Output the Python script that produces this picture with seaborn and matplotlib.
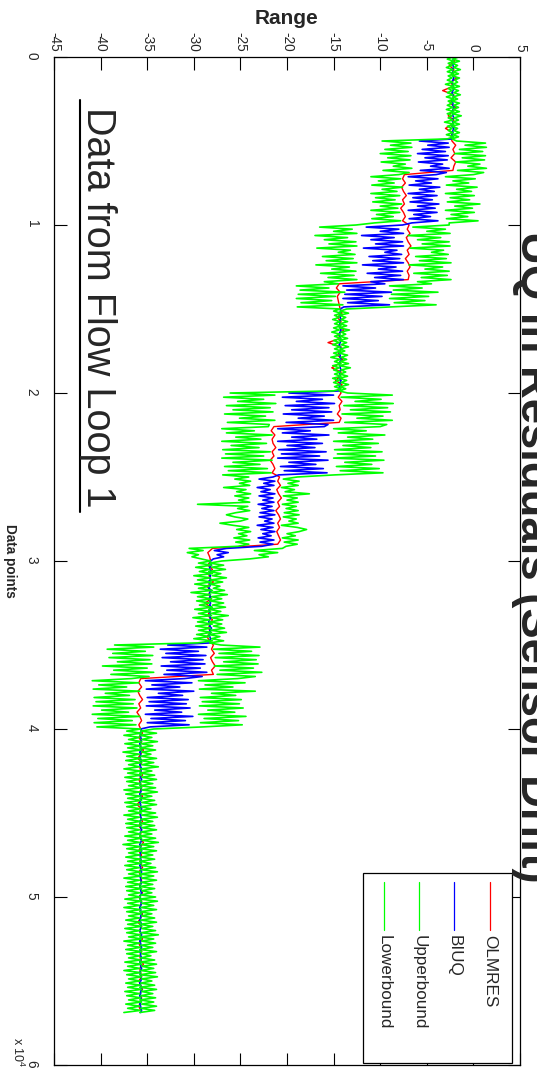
import numpy as np
import pandas as pd
import matplotlib
matplotlib.use("Agg")
import matplotlib.pyplot as plt
import seaborn as sns
from matplotlib.lines import Line2D
from matplotlib.patches import Rectangle
from matplotlib import font_manager as fm

# ---------------- data ----------------
olmres_step = 250   # data points between OLMRES samples
bound_step = 125    # data points between BIUQ / bound samples

olmres = [
    # 0 - 5000
    -2.2,-2.0,-2.6,-2.1,-2.3,-1.8,-2.4,-2.2,-3.3,-2.1,-2.2,-2.5,-1.9,-2.3,-2.7,-2.1,-2.2,-3.0,-2.2,-2.4,
    # 5000 - 7000
    -2.3,-1.9,-2.2,-2.0,-2.4,-1.9,-2.1,-2.2,
    # 7000 - 10000
    -7.4,-7.6,-7.3,-7.7,-7.5,-7.2,-7.6,-7.4,-7.8,-7.5,-7.3,-7.6,
    # 10000 - 13500
    -6.9,-7.1,-6.8,-7.2,-7.0,-6.7,-7.1,-6.9,-7.3,-7.0,-6.8,-7.1,-6.9,-7.0,
    # 13500 - 15000
    -14.4,-14.7,-14.3,-14.6,-14.5,-14.4,
    # 15000 - 20000
    -14.3,-14.1,-14.6,-14.2,-14.4,-13.9,-14.5,-14.3,-15.6,-14.2,-14.3,-14.6,-14.0,-14.4,-15.2,-14.2,-14.3,-14.8,-14.1,-14.4,
    # 20000 - 22000
    -14.2,-14.5,-14.1,-14.4,-14.3,-14.6,-14.2,-14.4,
    # 22000 - 25000
    -21.4,-21.7,-21.3,-21.6,-21.5,-21.2,-21.6,-21.4,-21.8,-21.5,-21.3,-21.6,
    # 25000 - 29250
    -20.8,-21.0,-20.7,-21.1,-20.9,-20.6,-21.0,-20.8,-21.2,-20.9,-20.7,-21.0,-20.8,-21.1,-20.9,-20.7,-21.0,
    # 29250 - 30000
    -28.0,-28.5,-28.3,
    # 30000 - 35000
    -28.2,-28.5,-28.0,-28.4,-28.3,-27.9,-28.6,-28.2,-28.4,-28.1,-28.8,-28.2,-28.3,-28.5,-28.0,-28.3,-28.4,-28.2,-28.6,-28.3,
    # 35000 - 37000
    -27.9,-28.1,-27.8,-28.2,-28.0,-27.7,-28.1,-27.9,
    # 37000 - 40000
    -35.7,-35.9,-35.6,-36.0,-35.8,-35.5,-35.9,-35.7,-36.1,-35.8,-35.6,-35.9,
    # 40000 - 56750
    -35.7,-35.5,-35.9,-35.6,-35.8,-35.4,-35.7,-36.0,-35.6,-35.8,
    -35.7,-35.5,-35.9,-35.7,-35.6,-35.8,-35.5,-35.7,-36.1,-35.6,
    -35.8,-35.7,-35.5,-35.9,-35.6,-35.7,-35.8,-35.4,-35.7,-35.9,
    -35.6,-35.8,-35.7,-35.5,-35.9,-35.7,-35.6,-35.8,-35.7,-35.5,
    -35.9,-35.6,-35.7,-35.8,-35.5,-35.7,-36.0,-35.6,-35.8,-35.7,
    -35.5,-35.9,-35.7,-35.6,-35.8,-35.7,-35.4,-35.8,-35.7,-35.6,
    -35.9,-35.7,-35.5,-35.8,-35.6,-35.7,-35.9,-35.7,
]

biuq = [
    # 0 - 5000
    -2.2,-2.1,-2.3,-2.2,-2.2,-2.1,-2.3,-2.2, -2.3,-2.2,-2.1,-2.2,-2.3,-2.2,-2.2,-2.1,
    -2.2,-2.3,-2.2,-2.1,-2.2,-2.3,-2.2,-2.2, -2.1,-2.2,-2.3,-2.2,-2.2,-2.1,-2.3,-2.2,
    -2.2,-2.3,-2.1,-2.2,-2.2,-2.3,-2.2,-2.2,
    # 5000 - 7000
    -5.8,-2.7,-4.9,-2.6,-5.5,-3.0,-6.0,-2.7,-5.2,-2.8,-5.9,-3.3,-4.6,-2.6,-5.7,-2.9,
    # 7000 - 10000
    -4.0,-7.0,-3.8,-6.2,-4.5,-6.9,-3.6,-5.8,-4.2,-7.0,-3.9,-6.5,
    -4.4,-6.8,-3.7,-6.0,-4.1,-7.0,-3.9,-6.4,-4.6,-6.9,-3.8,-6.6,
    # 10000 - 13500
    -7.6,-11.5,-8.0,-10.0,-7.5,-12.0,-8.5,-11.0,-7.6,-10.5,-7.5,-11.8,-8.2,-9.5,
    -7.7,-11.2,-7.9,-10.8,-7.5,-11.9,-8.3,-10.2,-7.6,-11.4,-7.8,-10.6,-7.5,-11.0,
    # 13500 - 15000
    -9.5,-14.0,-10.5,-13.6,-8.8,-13.8,-9.8,-14.0,-10.2,-13.5,-9.0,-13.9,
    # 15000 - 20000
    -14.3,-14.2,-14.4,-14.3,-14.3,-14.2,-14.4,-14.3, -14.4,-14.3,-14.2,-14.3,-14.4,-14.3,-14.3,-14.2,
    -14.3,-14.4,-14.3,-14.2,-14.3,-14.4,-14.3,-14.3, -14.2,-14.3,-14.4,-14.3,-14.3,-14.2,-14.4,-14.3,
    -14.3,-14.4,-14.2,-14.3,-14.3,-14.4,-14.3,-14.3,
    # 20000 - 22000
    -19.8,-15.0,-20.5,-16.2,-19.0,-14.9,-20.2,-15.5,-19.5,-15.2,-20.4,-16.0,-18.8,-15.0,-20.1,-15.6,
    # 22000 - 25000
    -16.0,-21.0,-17.5,-20.5,-15.5,-19.5,-16.8,-21.0,-16.2,-20.0,-17.0,-20.9,
    -15.8,-20.6,-16.5,-21.0,-15.6,-19.8,-16.9,-20.7,-16.1,-20.3,-15.7,-20.9,
    # 25000 - 29250
    -21.5,-23.0,-21.3,-22.5,-21.4,-23.2,-21.8,-22.8,-21.3,-23.0,-21.5,-22.6,-21.4,-23.1,-21.6,-22.7,-21.4,
    -22.9,-21.3,-23.0,-21.6,-22.4,-21.4,-23.2,-21.5,-22.8,-21.3,-22.6,-21.7,-23.1,-21.4,-22.9,-21.5,-22.7,
    # 29250 - 30000
    -26.5,-27.8,-26.3,-27.5,-26.8,-27.9,
    # 30000 - 35000
    -28.2,-28.3,-28.1,-28.3,-28.3,-28.1,-28.4,-28.2, -28.3,-28.2,-28.5,-28.2,-28.3,-28.4,-28.1,-28.3,
    -28.3,-28.2,-28.4,-28.3,-28.2,-28.3,-28.1,-28.3, -28.4,-28.2,-28.3,-28.2,-28.3,-28.4,-28.2,-28.3,
    -28.1,-28.3,-28.2,-28.4,-28.3,-28.2,-28.3,-28.2,
    # 35000 - 37000
    -32.8,-28.6,-33.6,-29.5,-33.0,-28.7,-33.4,-29.0,-32.5,-28.8,-33.5,-29.3,-32.9,-28.6,-33.2,-29.1,
    # 37000 - 40000
    -31.0,-35.2,-30.2,-34.5,-31.5,-35.1,-30.0,-33.8,-31.2,-35.0,-30.6,-34.8,
    -30.8,-35.1,-30.4,-34.2,-31.3,-35.2,-30.1,-34.6,-30.9,-35.0,-30.5,-34.7,
    # 40000 - 56875
    -35.7,-35.6,-35.8,-35.7,-35.7,-35.6,-35.7,-35.8, -35.7,-35.7,-35.6,-35.8,-35.7,-35.7,-35.8,-35.6,
    -35.7,-35.8,-35.7,-35.6,-35.7,-35.7,-35.8,-35.7, -35.6,-35.7,-35.8,-35.7,-35.7,-35.6,-35.7,-35.8,
    -35.7,-35.6,-35.7,-35.8,-35.7,-35.7,-35.6,-35.7, -35.8,-35.7,-35.7,-35.6,-35.8,-35.7,-35.7,-35.7,
    -35.6,-35.7,-35.8,-35.7,-35.7,-35.6,-35.7,-35.8, -35.7,-35.7,-35.6,-35.7,-35.8,-35.7,-35.7,-35.6,
    -35.7,-35.8,-35.7,-35.7,-35.6,-35.7,-35.8,-35.7, -35.7,-35.6,-35.7,-35.8,-35.7,-35.7,-35.6,-35.7,
    -35.8,-35.7,-35.7,-35.6,-35.7,-35.8,-35.7,-35.7, -35.6,-35.7,-35.7,-35.8,-35.7,-35.6,-35.7,-35.7,
    -35.8,-35.7,-35.6,-35.7,-35.7,-35.8,-35.7,-35.7, -35.6,-35.7,-35.8,-35.7,-35.7,-35.6,-35.7,-35.8,
    -35.7,-35.7,-35.6,-35.7,-35.8,-35.7,-35.7,-35.6, -35.7,-35.8,-35.7,-35.7,-35.6,-35.7,-35.7,-35.8,
    -35.7,-35.6,-35.7,-35.8,-35.7,-35.7,-35.6,-35.7,
]

upperbound = [
    # 0 - 5000
    -1.6,-2.2,-1.5,-2.3,-1.7,-2.1,-1.4,-2.2, -1.6,-2.3,-1.5,-2.0,-1.7,-2.2,-1.5,-2.3,
    -1.6,-2.1,-1.4,-2.2,-1.7,-2.3,-1.5,-2.1, -1.6,-2.2,-1.5,-2.3,-1.3,-2.1,-1.6,-2.2,
    -1.5,-2.3,-1.7,-2.1,-1.5,-2.2,-1.6,-2.3,
    # 5000 - 7000
    -1.8,1.3,-0.9,1.4,-1.5,1.0,-2.0,1.3,-1.2,1.2,-1.9,0.7,-0.6,1.4,-1.7,1.1,
    # 7000 - 10000
    0.0,-3.0,0.2,-2.2,-0.5,-2.9,0.4,-1.8,-0.2,-3.0,0.1,-2.5,
    -0.4,-2.8,0.7,-2.0,-0.1,-3.0,0.1,-2.4,-0.6,-2.9,0.5,-2.6,
    # 10000 - 13500
    -2.6,-6.5,-3.0,-5.0,-2.5,-7.0,-3.5,-6.0,-2.6,-5.5,-2.5,-6.8,-3.2,-4.5,
    -2.7,-6.2,-2.9,-5.8,-2.4,-6.9,-3.3,-5.2,-2.6,-6.4,-2.8,-5.6,-2.4,-6.0,
    # 13500 - 15000
    -4.5,-9.0,-5.5,-8.6,-3.8,-8.8,-4.8,-9.0,-5.2,-8.5,-4.0,-8.9,
    # 15000 - 20000
    -13.6,-14.3,-13.4,-14.4,-13.7,-14.2,-13.5,-14.3, -13.6,-14.4,-13.3,-14.2,-13.7,-14.3,-13.5,-14.4,
    -13.6,-14.2,-13.4,-14.3,-13.8,-14.4,-13.5,-14.2, -13.6,-14.3,-13.4,-14.4,-13.2,-14.2,-13.7,-14.3,
    -13.5,-14.4,-13.6,-14.2,-13.4,-14.3,-13.7,-14.4,
    # 20000 - 22000
    -13.5,-8.7,-14.2,-9.9,-12.7,-8.6,-13.9,-9.2,-13.2,-8.9,-14.1,-9.7,-12.5,-8.7,-13.8,-9.3,
    # 22000 - 25000
    -10.0,-15.0,-11.5,-14.5,-9.5,-13.5,-10.8,-15.0,-10.2,-14.0,-11.0,-14.9,
    -9.8,-14.6,-10.5,-15.0,-9.6,-13.8,-10.9,-14.7,-10.1,-14.3,-9.7,-14.9,
    # 25000 - 29250
    -18.9,-20.4,-18.7,-19.9,-18.8,-20.6,-19.2,-20.2,-17.6,-20.4,-18.9,-20.0,-18.8,-20.5,-19.0,-20.1,-18.8,
    -20.3,-18.7,-20.4,-19.0,-19.8,-18.8,-20.6,-18.9,-17.9,-18.7,-20.0,-19.1,-20.5,-18.8,-20.3,-18.9,-20.1,
    # 29250 - 30000
    -20.5,-23.5,-21.0,-23.0,-22.0,-24.0,
    # 30000 - 35000
    -27.0,-28.3,-26.8,-28.1,-26.6,-28.4,-27.1,-28.0, -26.5,-28.2,-26.9,-28.3,-27.2,-27.9,-26.7,-28.2,
    -26.4,-28.1,-27.0,-28.3,-26.8,-28.0,-26.6,-28.4, -27.1,-28.2,-26.3,-28.1,-26.9,-28.3,-27.0,-27.9,
    -26.7,-28.2,-26.5,-28.4,-27.2,-28.1,-26.8,-28.3,
    # 35000 - 37000
    -27.1,-22.9,-27.9,-23.8,-27.3,-23.0,-27.7,-23.3,-26.8,-23.1,-27.8,-23.6,-27.2,-22.7,-27.5,-23.4,
    # 37000 - 40000
    -25.3,-29.5,-24.5,-28.8,-25.8,-29.4,-23.4,-28.1,-25.5,-29.3,-24.9,-29.1,
    -25.1,-29.4,-24.7,-28.5,-25.6,-29.5,-24.4,-28.9,-25.2,-29.3,-24.8,-29.0,
    # 40000 - 56875
    -34.3,-35.7,-34.0,-35.8,-34.5,-35.6,-33.9,-35.7, -34.4,-35.8,-34.1,-35.6,-34.6,-35.7,-34.0,-35.8,
    -34.3,-35.6,-33.8,-35.7,-34.5,-35.8,-34.2,-35.6, -34.0,-35.7,-34.4,-35.8,-34.1,-35.6,-33.9,-35.7,
    -34.5,-35.8,-34.2,-35.6,-34.0,-35.7,-34.6,-35.8, -34.1,-35.6,-33.9,-35.7,-34.4,-35.8,-34.2,-35.6,
    -34.0,-35.7,-34.5,-35.8,-34.1,-35.6,-33.8,-35.7, -34.3,-35.8,-34.0,-35.6,-34.4,-35.7,-34.2,-35.8,
    -34.6,-35.6,-34.1,-35.7,-33.9,-35.8,-34.3,-35.6, -34.0,-35.7,-34.4,-35.8,-34.2,-35.6,-34.5,-35.7,
    -34.1,-35.8,-33.9,-35.6,-34.3,-35.7,-34.0,-35.8, -34.5,-35.6,-34.2,-35.7,-34.0,-35.8,-34.4,-35.6,
    -34.1,-35.7,-33.8,-35.8,-34.3,-35.6,-34.1,-35.7, -34.4,-35.8,-34.0,-35.6,-34.6,-35.7,-34.2,-35.8,
    -34.0,-35.6,-34.3,-35.7,-34.1,-35.8,-33.9,-35.6, -34.5,-35.7,-34.2,-35.8,-34.0,-35.6,-34.4,-35.7,
    -34.1,-35.8,-34.3,-35.6,-34.0,-35.7,-34.2,-35.8,
]

lowerbound = [
    # 0 - 5000
    -2.2,-2.8,-2.1,-2.7,-2.3,-2.9,-2.2,-2.8, -2.1,-2.7,-2.3,-2.8,-2.2,-3.0,-2.1,-2.7,
    -2.3,-2.8,-2.2,-2.9,-2.1,-2.7,-2.3,-2.8, -2.2,-2.9,-2.1,-2.8,-2.3,-2.7,-2.2,-3.1,
    -2.1,-2.8,-2.3,-2.7,-2.2,-2.9,-2.1,-2.8,
    # 5000 - 7000
    -9.8,-6.7,-8.9,-6.6,-9.5,-7.0,-10.0,-6.7,-9.2,-6.8,-9.9,-7.3,-8.6,-6.6,-9.7,-6.9,
    # 7000 - 10000
    -8.0,-11.0,-7.8,-10.2,-8.5,-10.9,-7.6,-9.8,-8.2,-11.0,-7.9,-10.5,
    -8.4,-10.8,-7.7,-10.0,-8.1,-11.0,-7.9,-10.4,-8.6,-10.9,-7.8,-10.6,
    # 10000 - 13500
    -12.6,-16.5,-13.0,-15.0,-12.5,-17.0,-13.5,-16.0,-12.6,-15.5,-12.5,-16.8,-13.2,-14.5,
    -12.7,-16.2,-12.9,-15.8,-12.5,-16.9,-13.3,-15.2,-12.6,-16.4,-12.8,-15.6,-12.5,-16.0,
    # 13500 - 15000
    -14.5,-19.0,-15.5,-18.6,-13.8,-18.8,-14.8,-19.0,-15.2,-18.5,-14.0,-18.9,
    # 15000 - 20000
    -14.3,-15.0,-14.2,-14.9,-14.4,-15.1,-14.3,-14.9, -14.2,-15.0,-14.4,-15.2,-14.3,-14.9,-14.2,-15.0,
    -14.4,-15.1,-14.3,-14.9,-14.2,-15.0,-14.4,-15.3, -14.3,-14.9,-14.2,-15.1,-14.4,-15.0,-14.3,-14.9,
    -14.2,-15.1,-14.4,-15.0,-14.3,-14.9,-14.2,-15.0,
    # 20000 - 22000
    -26.1,-21.3,-26.8,-22.5,-25.3,-21.2,-26.5,-21.8,-25.8,-21.5,-26.7,-22.3,-25.1,-21.3,-26.4,-21.9,
    # 22000 - 25000
    -22.0,-27.0,-23.5,-26.5,-21.6,-25.5,-22.8,-27.0,-22.2,-26.0,-23.0,-26.9,
    -21.8,-26.6,-22.5,-27.0,-21.6,-25.8,-22.9,-26.7,-22.1,-26.3,-21.7,-26.9,
    # 25000 - 29250
    -24.1,-25.6,-23.9,-25.1,-24.0,-26.8,-24.4,-25.4,-23.9,-25.6,-24.1,-25.2,-24.0,-29.6,-24.2,-25.3,-24.0,
    -25.5,-26.5,-25.6,-24.2,-25.0,-27.2,-25.8,-24.1,-25.4,-23.9,-25.2,-24.3,-25.7,-24.0,-25.5,-24.1,-25.3,
    # 29250 - 30000
    -30.5,-29.0,-30.7,-29.5,-30.2,-29.2,
    # 30000 - 35000
    -28.2,-29.5,-28.1,-29.8,-28.3,-29.4,-28.0,-30.0, -28.2,-29.6,-28.1,-29.9,-28.3,-29.5,-28.0,-30.3,
    -28.2,-29.6,-28.1,-29.7,-28.3,-29.4,-28.0,-29.9, -28.2,-29.5,-28.1,-30.1,-28.3,-29.6,-28.0,-29.8,
    -28.2,-29.5,-28.1,-29.7,-28.3,-30.0,-28.0,-29.6,
    # 35000 - 37000
    -38.5,-34.3,-39.3,-35.2,-38.7,-34.4,-39.1,-34.7,-38.2,-34.5,-39.8,-35.0,-38.6,-34.3,-38.9,-34.8,
    # 37000 - 40000
    -36.7,-40.9,-35.9,-40.2,-37.2,-40.8,-35.8,-39.5,-36.9,-40.7,-36.3,-40.5,
    -36.5,-40.8,-36.1,-39.9,-37.0,-40.9,-35.8,-40.3,-36.6,-40.7,-36.2,-40.4,
    # 40000 - 56875
    -35.7,-37.2,-35.6,-37.5,-35.8,-37.0,-35.6,-37.4, -35.7,-37.1,-35.6,-37.6,-35.8,-37.2,-35.7,-37.3,
    -35.6,-37.0,-35.8,-37.5,-35.7,-37.1,-35.6,-37.4, -35.8,-37.2,-35.7,-37.0,-35.6,-37.5,-35.8,-37.3,
    -35.7,-37.1,-35.6,-37.4,-35.8,-37.2,-35.7,-37.0, -35.6,-37.5,-35.8,-37.1,-35.7,-37.3,-35.6,-37.2,
    -35.8,-37.0,-35.7,-37.4,-35.6,-37.1,-35.8,-37.6, -35.7,-37.2,-35.6,-37.0,-35.8,-37.3,-35.7,-37.1,
    -35.6,-37.4,-35.8,-37.2,-35.7,-37.0,-35.6,-37.5, -35.8,-37.1,-35.7,-37.3,-35.6,-37.2,-35.8,-37.0,
    -35.7,-37.4,-35.6,-37.1,-35.8,-37.5,-35.7,-37.2, -35.6,-37.0,-35.8,-37.3,-35.7,-37.1,-35.6,-37.4,
    -35.8,-37.2,-35.7,-37.0,-35.6,-37.5,-35.8,-37.1, -35.7,-37.3,-35.6,-37.2,-35.8,-37.0,-35.7,-37.4,
    -35.6,-37.1,-35.8,-37.5,-35.7,-37.2,-35.6,-37.0, -35.8,-37.3,-35.7,-37.1,-35.6,-37.4,-35.8,-37.2,
    -35.7,-37.0,-35.6,-37.3,-35.8,-37.1,-35.7,-37.5,
]

series_names = ["OLMRES", "BIUQ", "Upperbound", "Lowerbound"]
series_colors = ["#ff0000", "#0000ff", "#00ff00", "#00ff00"]
range_ticks = [-45, -40, -35, -30, -25, -20, -15, -10, -5, 0, 5]
point_ticks = [0, 10000, 20000, 30000, 40000, 50000, 60000]
point_tick_labels = ["0", "1", "2", "3", "4", "5", "6"]
title_text = "UQ in Residuals (Sensor Drift)"
note_text = "Data from Flow Loop 1"

# ---------------- style ----------------
sns.set_style("white")
plt.rcParams['font.family'] = ['Liberation Sans', 'DejaVu Sans']
plt.rcParams['axes.unicode_minus'] = False
plt.rcParams['mathtext.fontset'] = 'custom'
plt.rcParams['mathtext.rm'] = 'Liberation Sans'

names = {f.name for f in fm.fontManager.ttflist}
HAS_NARROW = 'Liberation Sans Narrow' in names
NARROW = ['Liberation Sans Narrow', 'Liberation Sans', 'DejaVu Sans'] if HAS_NARROW else ['Liberation Sans', 'DejaVu Sans']
k = 1.0 if HAS_NARROW else 0.82  # size factor when no narrow face

W, H = 537, 1070
fig = plt.figure(figsize=(W / 100, H / 100), dpi=100)
fig.patch.set_facecolor("white")
ax = fig.add_axes([54 / W, 1 - 1065 / H, 466 / W, 1008 / H])

df_res = pd.DataFrame({"point": np.arange(len(olmres)) * olmres_step, "OLMRES": olmres})
df_uq = pd.DataFrame({
    "point": np.arange(len(biuq)) * bound_step,
    "BIUQ": biuq,
    "Upperbound": upperbound,
    "Lowerbound": lowerbound,
})

line_widths = {"OLMRES": 1.0, "BIUQ": 1.2, "Upperbound": 1.2, "Lowerbound": 1.2}
for name, color in zip(series_names, series_colors):
    src = df_res if name == "OLMRES" else df_uq
    sns.lineplot(data=src, x=name, y="point", orient="y", sort=False, estimator=None,
                 color=color, lw=line_widths[name], ax=ax, legend=False)

ax.set_xlim(-45, 5)
ax.set_ylim(60000, 0)
ax.set_xlabel("")
ax.set_ylabel("")
ax.set_xticks(range_ticks)
ax.set_xticklabels([str(t) for t in range_ticks])
ax.set_yticks(point_ticks)
ax.set_yticklabels(point_tick_labels)
for s in ax.spines.values():
    s.set_color("black")
    s.set_linewidth(0.9)
    s.set_visible(True)
ax.tick_params(axis="both", direction="in", length=9, width=0.8, color="black",
               top=True, bottom=True, left=True, right=True)
ax.tick_params(axis="x", labeltop=True, labelbottom=False, labelrotation=-90, pad=4,
               labelsize=12 * k)
ax.tick_params(axis="y", labelleft=True, labelright=False, labelrotation=-90, pad=11,
               labelsize=12 * k)
for lab in ax.get_xticklabels() + ax.get_yticklabels():
    lab.set_family(NARROW)

# axis labels and annotations
fig.text(287 / W, 1 - 19 / H, "Range", ha="center", va="center", fontsize=15,
         fontweight="bold")
fig.text(10 / W, 1 - 561 / H, "Data points", rotation=-90, ha="center", va="center",
         fontsize=12 * k, fontweight="bold", family=NARROW)
fig.text(10 / W, 1 - 1052 / H, r"x 10$^{4}$", rotation=-90, ha="left", va="center",
         fontsize=11 * k, family=NARROW)
fig.text(511 / W, 1 - 557 / H, title_text, rotation=-90, ha="left", va="center",
         fontsize=40 * k, fontweight="bold", family=NARROW)
fig.text(79 / W, 1 - 307 / H, note_text, rotation=-90, ha="left", va="center",
         fontsize=28.5)
fig.add_artist(Line2D([80 / W, 80 / W], [1 - 100 / H, 1 - 512 / H], color="black", lw=1.5))

# legend (rotated with the figure)
box = Rectangle((0.663, 0.002), 0.320, 0.188, transform=ax.transAxes,
                facecolor="white", edgecolor="black", lw=0.9, zorder=5)
ax.add_patch(box)
leg_x = [0.936, 0.858, 0.783, 0.708]
for xpos, name, color in zip(leg_x, series_names, series_colors):
    ax.add_line(Line2D([xpos, xpos], [0.1815, 0.134], transform=ax.transAxes,
                       color=color, lw=0.9, zorder=6))
    ax.text(xpos, 0.129, name, transform=ax.transAxes, rotation=-90, ha="center",
            va="top", fontsize=15 * k, family=NARROW, zorder=6)

fig.savefig("out.png", dpi=100, facecolor="white")
